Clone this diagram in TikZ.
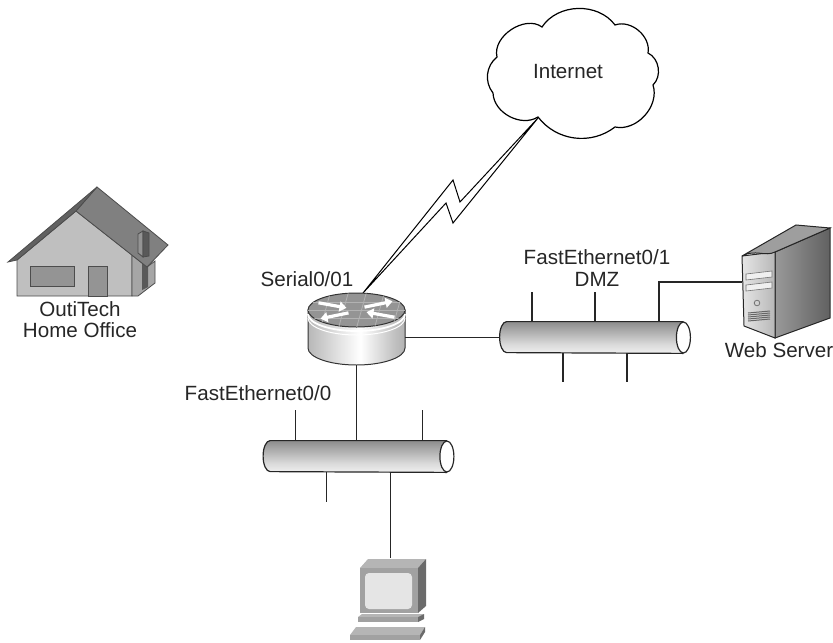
\documentclass[tikz,border=0pt]{standalone}
\usepackage{fontspec}
\setmainfont{Liberation Sans}
\usepackage{tikz}
\usetikzlibrary{arrows.meta}

\pgfdeclareverticalshading{tube}{100bp}{color(0bp)=(black!55); color(22bp)=(black!4); color(40bp)=(black!15); color(75bp)=(black!45); color(100bp)=(black!75)}
\pgfdeclarehorizontalshading{drum}{100bp}{color(0bp)=(black!55); color(40bp)=(black!12); color(52bp)=(white); color(70bp)=(black!25); color(100bp)=(black!55)}

\begin{document}
\begin{tikzpicture}[
  x = 0.5pt, y = -0.5pt,
  wire/.style = {line width=0.6pt, draw=black!85},
  edge/.style = {draw=black!70, line width=0.4pt},
  lbl/.style = {font=\fontsize{10.3}{10.6}\selectfont, text=black!85, align=center, inner sep=0pt},
  hub/.style = {minimum width=95pt, minimum height=15.5pt, inner sep=0pt},
  box/.style = {inner sep=0pt},
]
\useasboundingbox (0,0) rectangle (833,642);

% home office
\filldraw[edge, fill=black!25] (17,296) -- (17,260) -- (76,211) -- (132,255) -- (132,296) -- cycle;
\filldraw[edge, fill=black!35] (132,255) -- (147,267) -- (155,261) -- (155,283) -- (138,296) -- (132,296) -- cycle;
\fill[black!65] (142,263) -- (148,267) -- (148,287) -- (142,290) -- cycle;
\filldraw[edge, fill=black!50] (76,211) -- (97,187) -- (168,245) -- (147,267) -- cycle;
\filldraw[edge, fill=black!62] (8,262) -- (97,187) -- (76,211) -- (17,260) -- cycle;
\filldraw[edge, fill=black!42] (138,234) -- (143,231) -- (143,257) -- (138,253) -- cycle;
\filldraw[edge, fill=black!65] (143,231) -- (149,233) -- (149,256) -- (143,257) -- cycle;
\filldraw[edge, fill=black!42] (30,266) rectangle (74,286);
\filldraw[edge, fill=black!42] (88,266) rectangle (107,296);
\node[lbl] (homelbl) at (80,320) {OutiTech\\Home Office};

% internet cloud
\filldraw[line width=0.6pt, fill=white] (497,57) to[bend left=70] (542,27) to[bend left=55] (615,25)
  to[bend left=60] (648,53) to[bend left=55] (653,85) to[bend left=60] (615,127)
  to[bend left=45] (538,117) to[bend left=60] (493,93) to[bend left=45] cycle;
\node[box, minimum width=80pt, minimum height=64pt] (inet) at (575,72) {};
\node[lbl] (inetlbl) at (568,72) {Internet};

% serial link
\coordinate (boltA) at (538,118);
\coordinate (boltB) at (363,293);
\filldraw[line width=0.5pt, fill=white] (boltA) -- (460,202) -- (453,180) -- (boltB) -- (446,203) -- (453,223) -- cycle;

% router
\coordinate (rtr) at (356.5,310);
\node[box, minimum width=48.5pt, minimum height=36pt] (rtrbody) at (356.5,329) {};
\shadedraw[shading=drum, draw=black!80, line width=0.5pt] ([xshift=-24.25pt]rtr) -- ++(0,-19pt)
  arc[start angle=180, end angle=360, x radius=24.25pt, y radius=8.5pt] -- ++(0,19pt) -- cycle;
\draw[white, line width=0.9pt] ([shift={(-24.25pt,-2pt)}]rtr) arc[start angle=180, end angle=360, x radius=24.25pt, y radius=8.5pt];
\draw[white, line width=0.5pt] ([shift={(-24.25pt,-4pt)}]rtr) arc[start angle=180, end angle=360, x radius=24.25pt, y radius=8.5pt];
\filldraw[fill=black!42, draw=black!80, line width=0.5pt] (rtr) ellipse[x radius=24.25pt, y radius=8.5pt];
\begin{scope}
  \clip (rtr) ellipse[x radius=24.25pt, y radius=8.5pt];
  \foreach \d in {-4pt,0pt,4pt}
    \draw[black!30, line width=0.4pt] ([shift={(-25pt,\d)}]rtr) -- ++(50pt,0);
  \foreach \d in {-18pt,-9pt,0pt,9pt,18pt}
    \draw[black!30, line width=0.4pt] ([shift={(\d,-9pt)}]rtr) -- ++(5pt,18pt);
\end{scope}
\begin{scope}[shift={(rtr)}, yscale=0.36]
  \draw[white, line width=1.6pt, -{Triangle[length=3.5pt, width=5pt]}] (-19pt,10pt) -- (-5pt,3pt);
  \draw[white, line width=1.6pt, -{Triangle[length=3.5pt, width=5pt]}] (19pt,-10pt) -- (5pt,-3pt);
  \draw[white, line width=1.6pt, -{Triangle[length=3.5pt, width=5pt]}] (4pt,4pt) -- (18pt,12pt);
  \draw[white, line width=1.6pt, -{Triangle[length=3.5pt, width=5pt]}] (-4pt,-4pt) -- (-18pt,-12pt);
\end{scope}
\node[lbl] (serlbl) at (307,279) {Serial0/01};

% DMZ segment and LAN segment
\node[hub] (dmz) at (595,337.5) {};
\node[hub] (lan) at (358.5,456.5) {};
\node[lbl] (dmzlbl) at (597,268) {FastEthernet0/1\\DMZ};
\node[lbl] (lanlbl) at (258,393) {FastEthernet0/0};

\foreach \s in {-31.5pt,0pt} \draw[wire] ([xshift=\s]dmz.north) -- ++(0,15pt);
\foreach \s in {-16pt,16pt} \draw[wire] ([xshift=\s]dmz.south) -- ++(0,-14.5pt);
\foreach \s in {-31.5pt,32pt} \draw[wire] ([xshift=\s]lan.north) -- ++(0,15.5pt);
\draw[wire] ([xshift=-16pt]lan.south) -- ++(0,-15pt);

\foreach \h in {dmz,lan} {
  \shade[shading=tube] ([xshift=3.5pt]\h.north west) arc[start angle=90, end angle=270, x radius=3.5pt, y radius=7.75pt]
    -- ([xshift=-3.5pt]\h.south east) -- ([xshift=-3.5pt]\h.north east) -- cycle;
  \draw[wire] ([xshift=-3.5pt]\h.north east) -- ([xshift=3.5pt]\h.north west)
    arc[start angle=90, end angle=270, x radius=3.5pt, y radius=7.75pt] -- ([xshift=-3.5pt]\h.south east);
  \filldraw[wire, fill=white] ([xshift=-3.5pt]\h.east) ellipse[x radius=3.5pt, y radius=7.75pt];
}

% web server
\node[box, minimum width=44pt, minimum height=56pt] (srv) at (786,282) {};
\shadedraw[left color=black!40, right color=black!62, draw=black!85, line width=0.5pt]
  (775,252) -- (830,228) -- (830,318) -- (775,338) -- cycle;
\shadedraw[left color=black!10, right color=black!28, draw=black!85, line width=0.5pt]
  (742,256) -- (775,252) -- (775,338) -- (744,326) -- cycle;
\filldraw[fill=black!38, draw=black!85, line width=0.5pt]
  (742,256) .. controls (755,249) and (765,257) .. (775,252) -- (830,228) -- (796,225) -- cycle;
\foreach \d in {0,11}
  \filldraw[fill=black!6, draw=black!55, line width=0.3pt] (746,274+\d) -- (772,271+\d) -- (772,277+\d) -- (746,280+\d) -- cycle;
\draw[black!55, line width=0.4pt] (757,303) circle[radius=1.4pt];
\foreach \d in {0,2,...,8}
  \draw[black!60, line width=0.5pt] (748,313+\d) -- (770,311+\d);
\node[lbl] (srvlbl) at (779,350) {Web Server};

% workstation
\node[box, minimum width=38pt, minimum height=41pt] (pc) at (388,599) {};
\fill[black!29] (360,568) -- (368,559) -- (426,559) -- (418,568) -- cycle;
\fill[black!37] (360,568) rectangle (418,613);
\fill[black!58] (418,568) -- (426,559) -- (426,606) -- (418,613) -- cycle;
\fill[black!10, rounded corners=2pt] (365,573) rectangle (412,609);
\fill[black!29] (358,617) -- (362,614) -- (424,614) -- (418,617) -- cycle;
\fill[black!37] (358,617) rectangle (418,622);
\fill[black!58] (418,617) -- (424,614) -- (424,619) -- (418,622) -- cycle;
\fill[black!29] (350,635) -- (356,627) -- (425,627) -- (420,635) -- cycle;
\fill[black!37] (350,635) rectangle (420,640);
\fill[black!58] (420,635) -- (425,627) -- (425,632) -- (420,640) -- cycle;

% links
\draw[wire] (dmz.west) -- (dmz.west -| rtrbody.east);
\draw[wire] (rtrbody.south) -- (rtrbody.south |- lan.north);
\draw[wire] ([xshift=32pt]dmz.north) |- (srv.west);
\draw[wire] ([xshift=16pt]lan.south) -- ([xshift=16pt]lan.south |- pc.north);
\end{tikzpicture}
\end{document}
